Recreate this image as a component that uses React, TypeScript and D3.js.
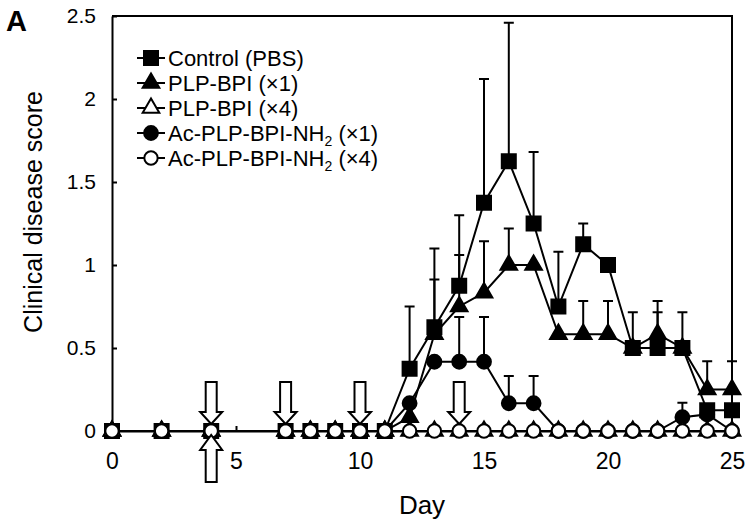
import React, { useEffect, useRef } from 'react';
import * as d3 from 'd3';

// days with scores
const days = [0, 2, 4, 7, 8, 9, 10, 11, 12, 13, 14, 15, 16, 17, 18, 19, 20, 21, 22, 23, 24, 25];

const control = [0, 0, 0, 0, 0, 0, 0, 0, 0.375, 0.625, 0.875, 1.375, 1.625, 1.25, 0.75, 1.125, 1.0, 0.5, 0.5, 0.5, 0.125, 0.125];
const controlSd = [0, 0, 0, 0, 0, 0, 0, 0, 0.375, 0.475, 0.425, 0.745, 0.835, 0.43, 0.33, 0.125, 0, 0.215, 0.215, 0.215, 0, 0];

const plp1 = [0, 0, 0, 0, 0, 0, 0, 0, 0.083, 0.583, 0.75, 0.833, 1.0, 1.0, 0.583, 0.583, 0.583, 0.5, 0.583, 0.5, 0.25, 0.25];
const plp1Sd = [0, 0, 0, 0, 0, 0, 0, 0, 0, 0.33, 0.31, 0.31, 0.22, 0, 0, 0.2, 0.2, 0, 0.2, 0, 0.17, 0.17];

const plp4 = [0, 0, 0, 0, 0, 0, 0, 0, 0, 0, 0, 0, 0, 0, 0, 0, 0, 0, 0, 0, 0, 0];

const ac1 = [0, 0, 0, 0, 0, 0, 0, 0, 0.167, 0.417, 0.417, 0.417, 0.167, 0.167, 0, 0, 0, 0, 0, 0.083, 0.1, 0];
const ac1Sd = [0, 0, 0, 0, 0, 0, 0, 0, 0, 0, 0.27, 0.27, 0.165, 0.165, 0, 0, 0, 0, 0, 0.087, 0, 0];

const ac4 = [0, 0, 0, 0, 0, 0, 0, 0, 0, 0, 0, 0, 0, 0, 0, 0, 0, 0, 0, 0, 0, 0];

const xTicks = [0, 5, 10, 15, 20, 25];
const yTicks = [0, 0.5, 1, 1.5, 2, 2.5];

// injection days (arrows)
const downArrowDays = [4, 7, 10, 14];
const upArrowDays = [4];

const FONT = '"Liberation Sans", Arial, sans-serif';

const App = () => {
  const ref = useRef<SVGSVGElement | null>(null);

  useEffect(() => {
    const svg = d3.select(ref.current);
    svg.selectAll('*').remove();

    const left = 112, right = 732, top = 16, bottom = 431;

    const x = d3.scaleLinear().domain([0, 25]).range([left, right]);
    const y = d3.scaleLinear().domain([0, 2.5]).range([bottom, top]);

    // frame: top and right
    svg.append('path')
      .attr('d', `M${left},${top}H${right}V${bottom}`)
      .attr('fill', 'none')
      .attr('stroke', '#000')
      .attr('stroke-width', 2);

    // Y axis
    const yAxis = svg.append('g')
      .attr('transform', `translate(${left},0)`)
      .call(d3.axisLeft(y).tickValues(yTicks).tickSizeInner(-5).tickSizeOuter(0).tickPadding(16)
        .tickFormat(d => String(d)));
    yAxis.selectAll('path, line').attr('stroke', '#000').attr('stroke-width', 2);
    yAxis.selectAll('text').style('font-family', FONT).style('font-size', '21px').attr('fill', '#000');

    // X axis
    const xAxis = svg.append('g')
      .attr('transform', `translate(0,${bottom})`)
      .call(d3.axisBottom(x).tickValues(xTicks).tickSizeInner(-5).tickSizeOuter(0).tickPadding(22));
    xAxis.selectAll('path, line').attr('stroke', '#000').attr('stroke-width', 2);
    xAxis.selectAll('text').style('font-family', FONT).style('font-size', '23px').attr('fill', '#000');

    // axis titles
    svg.append('text')
      .attr('x', (left + right) / 2)
      .attr('y', 514)
      .attr('text-anchor', 'middle')
      .style('font-family', FONT)
      .style('font-size', '26px')
      .text('Day');

    svg.append('text')
      .attr('transform', 'translate(42,212) rotate(-90)')
      .attr('text-anchor', 'middle')
      .style('font-family', FONT)
      .style('font-size', '25px')
      .text('Clinical disease score');

    svg.append('text')
      .attr('x', 6)
      .attr('y', 31)
      .style('font-family', FONT)
      .style('font-size', '29px')
      .style('font-weight', 'bold')
      .text('A');

    const series = [
      { name: 'ac1', values: ac1, sd: ac1Sd, shape: d3.symbolCircle, size: 150, fill: '#000' },
      { name: 'plp1', values: plp1, sd: plp1Sd, shape: d3.symbolTriangle, size: 120, fill: '#000' },
      { name: 'control', values: control, sd: controlSd, shape: d3.symbolSquare, size: 196, fill: '#000' },
      { name: 'plp4', values: plp4, sd: null, shape: d3.symbolTriangle, size: 120, fill: '#fff' },
      { name: 'ac4', values: ac4, sd: null, shape: d3.symbolCircle, size: 140, fill: '#fff' },
    ];

    const line = d3.line<number>()
      .x((d, i) => x(days[i]))
      .y(d => y(d));

    series.forEach(s => {
      const g = svg.append('g');
      // error bars (upper half only)
      if (s.sd) {
        const bars = days.map((d, i) => ({ d, v: s.values[i], e: s.sd![i] })).filter(b => b.e > 0);
        g.selectAll('.eb')
          .data(bars)
          .join('path')
          .attr('d', b => `M${x(b.d)},${y(b.v)}V${y(b.v + b.e)}M${x(b.d) - 5},${y(b.v + b.e)}H${x(b.d) + 5}`)
          .attr('fill', 'none')
          .attr('stroke', '#000')
          .attr('stroke-width', 2);
      }
      g.append('path')
        .datum(s.values)
        .attr('d', line)
        .attr('fill', 'none')
        .attr('stroke', '#000')
        .attr('stroke-width', 2);
      g.selectAll('.pt')
        .data(s.values)
        .join('path')
        .attr('transform', (d, i) => `translate(${x(days[i])},${y(d)})`)
        .attr('d', d3.symbol().type(s.shape).size(s.size)())
        .attr('fill', s.fill)
        .attr('stroke', '#000')
        .attr('stroke-width', 2);
    });

    // arrows
    const downArrow = (cx: number) =>
      `M${cx - 5.5},${bottom - 49}H${cx + 5.5}V${bottom - 19}H${cx + 11}L${cx},${bottom - 7}L${cx - 11},${bottom - 19}H${cx - 5.5}Z`;
    const upArrow = (cx: number) =>
      `M${cx - 5.5},${bottom + 51}H${cx + 5.5}V${bottom + 19}H${cx + 11}L${cx},${bottom + 4}L${cx - 11},${bottom + 19}H${cx - 5.5}Z`;
    svg.selectAll('.down')
      .data(downArrowDays)
      .join('path')
      .attr('d', d => downArrow(x(d)))
      .attr('fill', '#fff')
      .attr('stroke', '#000')
      .attr('stroke-width', 2);
    svg.selectAll('.up')
      .data(upArrowDays)
      .join('path')
      .attr('d', d => upArrow(x(d)))
      .attr('fill', '#fff')
      .attr('stroke', '#000')
      .attr('stroke-width', 2);

    // legend
    const legendItems = [
      { label: 'Control (PBS)', shape: d3.symbolSquare, size: 196, fill: '#000', sub: false },
      { label: 'PLP-BPI (\u00d71)', shape: d3.symbolTriangle, size: 120, fill: '#000', sub: false },
      { label: 'PLP-BPI (\u00d74)', shape: d3.symbolTriangle, size: 120, fill: '#fff', sub: false },
      { label: '(\u00d71)', shape: d3.symbolCircle, size: 150, fill: '#000', sub: true },
      { label: '(\u00d74)', shape: d3.symbolCircle, size: 140, fill: '#fff', sub: true },
    ];
    const lg = svg.append('g');
    legendItems.forEach((it, i) => {
      const cy = 58 + i * 25;
      lg.append('line')
        .attr('x1', 137).attr('x2', 165)
        .attr('y1', cy).attr('y2', cy)
        .attr('stroke', '#000').attr('stroke-width', 2);
      lg.append('path')
        .attr('transform', `translate(151,${cy})`)
        .attr('d', d3.symbol().type(it.shape).size(it.size)())
        .attr('fill', it.fill)
        .attr('stroke', '#000')
        .attr('stroke-width', 2);
      const t = lg.append('text')
        .attr('x', 168)
        .attr('y', cy + 8)
        .style('font-family', FONT)
        .style('font-size', '22px');
      if (it.sub) {
        t.append('tspan').text('Ac-PLP-BPI-NH');
        t.append('tspan').attr('dy', 5).style('font-size', '14px').text('2');
        t.append('tspan').attr('dy', -5).text(' ' + it.label);
      } else {
        t.text(it.label);
      }
    });
  }, []);

  return (
    <svg
      ref={ref}
      width={750}
      height={524}
      style={{ position: 'absolute', left: 0, top: 0, background: '#fff' }}
    />
  );
};

export default App;
